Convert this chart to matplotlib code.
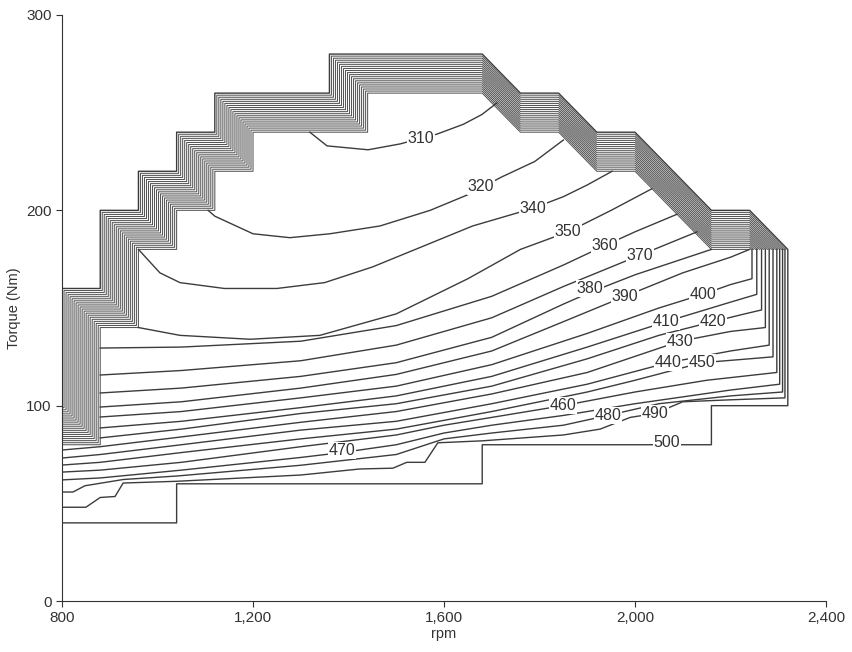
import matplotlib.pyplot as plt
from matplotlib.ticker import FuncFormatter

# outer boundary of the map (the 500 line)
env_rpm = [800, 1040, 1040, 1680, 1680, 2160, 2160, 2320, 2320, 2240, 2160, 2000, 1920, 1840, 1760,
           1680, 1360, 1360, 1120, 1120, 1040, 1040, 960, 960, 880, 880, 800]
env_nm = [40, 40, 60, 60, 80, 80, 100, 100, 180, 200, 200, 240, 240, 260, 260,
          280, 280, 260, 260, 240, 240, 220, 220, 200, 200, 160, 160]

# steep band along the full-load edge: outer and inner edge, vertex for vertex
band_out_rpm = [800, 800, 800, 880, 880, 960, 960, 1040, 1040, 1120, 1120, 1360, 1360, 1680,
                1760, 1840, 1920, 2000, 2160, 2240, 2320]
band_out_nm = [100, 100, 160, 160, 200, 200, 220, 220, 240, 240, 260, 260, 280, 280,
               260, 260, 240, 240, 200, 200, 180]
band_in_rpm = [800, 880, 880, 960, 960, 1040, 1040, 1120, 1120, 1200, 1200, 1440, 1440, 1680,
               1760, 1840, 1920, 2000, 2160, 2240, 2240]
band_in_nm = [80, 80, 140, 140, 180, 180, 200, 200, 220, 220, 240, 240, 260, 260,
              240, 240, 220, 220, 180, 180, 180]
band_lines = 19

c310 = [(1319, 240), (1355, 233), (1441, 231), (1508, 234), (1585, 239), (1640, 244), (1679, 249), (1711, 255)]
c320 = [(1106, 200), (1120, 197), (1200, 188), (1277, 186), (1361, 188), (1466, 192), (1571, 200),
        (1650, 208), (1720, 217), (1790, 225), (1850, 236)]
c340 = [(960, 180), (1005, 168), (1047, 163), (1140, 160), (1250, 160), (1350, 163), (1450, 171),
        (1560, 182), (1660, 192), (1786, 201), (1850, 207), (1900, 213), (1952, 220)]
c350 = [(960, 140), (1047, 136), (1194, 134), (1340, 136), (1500, 147), (1650, 165), (1760, 180),
        (1860, 189), (1950, 200), (2035, 211)]
c360 = [(880, 129.5), (1050, 130), (1300, 133), (1500, 141), (1700, 156), (1850, 172), (1937, 182),
        (2000, 189), (2088, 198)]
c370 = [(880, 115.7), (1050, 118), (1300, 123), (1500, 131), (1700, 145), (1850, 161), (1940, 170),
        (2010, 177), (2130, 189)]
c380 = [(880, 106.5), (1050, 109), (1300, 115), (1500, 122), (1700, 135), (1850, 152), (1906, 158),
        (2000, 167), (2160, 180)]
c390 = [(880, 99.3), (1050, 102), (1300, 109), (1500, 116), (1700, 128), (1850, 143), (1979, 156),
        (2100, 168), (2200, 176), (2240, 180)]
c400 = [(880, 94.2), (1050, 97), (1300, 104), (1500, 110), (1700, 121), (1900, 137), (2050, 150),
        (2142, 157), (2200, 162), (2245, 165), (2245, 180)]
c410 = [(880, 88.6), (1050, 92), (1300, 99), (1500, 105), (1700, 115), (1900, 130), (2065, 143),
        (2200, 153), (2255, 157), (2255, 180)]
c420 = [(880, 83.5), (1050, 88), (1300, 96), (1500, 101), (1700, 110), (1900, 124), (2050, 136),
        (2163, 143), (2230, 147), (2265, 149), (2265, 180)]
c430 = [(800, 77.3), (880, 79), (1050, 84), (1300, 91.5), (1500, 97), (1700, 106), (1900, 117),
        (2094, 133), (2200, 138), (2273, 140), (2273, 180)]
c440 = [(800, 73.2), (880, 75), (1050, 80), (1300, 87.5), (1500, 92), (1700, 101), (1900, 111),
        (2069, 122), (2200, 128), (2281, 131), (2281, 180)]
c450 = [(800, 69.6), (880, 71), (1050, 76), (1300, 83), (1500, 88), (1700, 97), (1900, 107),
        (2000, 113), (2140, 122), (2240, 124), (2289, 125), (2289, 180)]
c460 = [(800, 66), (880, 67), (1050, 71), (1300, 79), (1500, 85), (1600, 90), (1700, 94), (1849, 100),
        (2000, 107), (2150, 113), (2297, 117), (2297, 180)]
c470 = [(800, 62), (880, 63), (1050, 67), (1300, 73.5), (1386, 76), (1500, 80), (1600, 86), (1700, 90),
        (1850, 95), (2000, 101), (2200, 108), (2303, 111), (2303, 180)]
c480 = [(800, 55.8), (823, 55.8), (848, 59), (928, 62.2), (1041, 64), (1300, 69.5), (1500, 75),
        (1600, 83), (1700, 86), (1850, 90), (1943, 95), (2050, 101), (2200, 105), (2309, 107), (2309, 180)]
c490 = [(800, 48), (850, 48), (880, 53), (911, 53.5), (928, 60.4), (1041, 61.3), (1300, 64.5), (1424, 67.6),
        (1493, 68), (1522, 71), (1560, 71), (1587, 81), (1680, 82), (1850, 85), (1927, 88), (1990, 94),
        (2042, 96), (2100, 102), (2200, 103), (2314, 104), (2314, 180)]
contours = [c310, c320, c340, c350, c360, c370, c380, c390, c400, c410, c420, c430,
            c440, c450, c460, c470, c480, c490]

label_vals = [310, 320, 340, 350, 360, 370, 380, 390, 400, 410, 420, 430, 440, 450, 460, 470, 480, 490, 500]
label_rpm = [1552, 1677, 1786, 1860, 1937, 2010, 1906, 1979, 2142, 2065, 2163, 2094, 2069, 2140,
             1849, 1386, 1943, 2042, 2067]
label_nm = [237, 212, 201, 189, 182, 177, 160, 156, 157, 143, 143, 133, 122, 122, 100, 77, 95, 96, 81]

plt.rcParams['font.family'] = ['Liberation Sans', 'DejaVu Sans']
fig = plt.figure(figsize=(8.52, 6.52), dpi=100)
ax = fig.add_axes([0.0728, 0.0782, 0.8967, 0.8988])

line_col = '#3c3c3c'
for k in range(band_lines):
    f = k / band_lines
    xs = [a + (b - a) * f for a, b in zip(band_in_rpm, band_out_rpm)]
    ys = [a + (b - a) * f for a, b in zip(band_in_nm, band_out_nm)]
    ax.plot(xs, ys, color='#555555', lw=0.75)

ax.plot(env_rpm, env_nm, color=line_col, lw=1.0)
for c in contours:
    ax.plot([p[0] for p in c], [p[1] for p in c], color=line_col, lw=1.0)

for v, x, y in zip(label_vals, label_rpm, label_nm):
    ax.text(x, y, str(v), fontsize=11.5, color='#333333', ha='center', va='center',
            bbox=dict(boxstyle='square,pad=0.05', fc='white', ec='none'))

ax.set_xlim(800, 2400)
ax.set_ylim(0, 300)
ax.set_xticks([800, 1200, 1600, 2000, 2400])
ax.set_yticks([0, 100, 200, 300])
ax.xaxis.set_major_formatter(FuncFormatter(lambda v, p: f'{int(v):,}'))
for s in ['top', 'right']:
    ax.spines[s].set_visible(False)
for s in ['left', 'bottom']:
    ax.spines[s].set_color('#333333')
ax.tick_params(direction='out', length=4, labelsize=11, colors='#333333')
ax.set_xlabel('rpm', fontsize=10.5, color='#333333', labelpad=1)
ax.set_ylabel('Torque (Nm)', fontsize=10.5, color='#333333', labelpad=4)

fig.savefig('out.png', dpi=100)
